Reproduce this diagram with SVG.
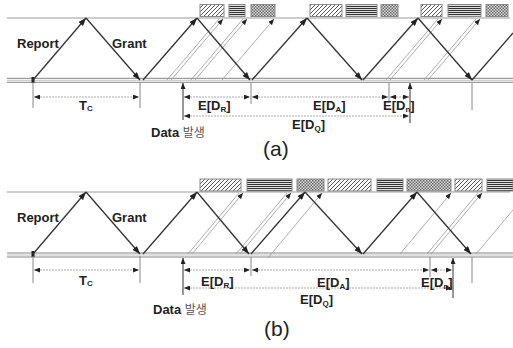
<svg xmlns="http://www.w3.org/2000/svg" width="513" height="348" viewBox="0 0 513 348">
<defs>
<pattern id="hatch" patternUnits="userSpaceOnUse" width="4" height="4">
<rect width="4" height="4" fill="#fff"/>
<path d="M-1,1 l2,-2 M0,4 l4,-4 M3,5 l2,-2" stroke="#555" stroke-width="1"/>
</pattern>
<pattern id="hlines" patternUnits="userSpaceOnUse" width="4" height="2">
<rect width="4" height="2" fill="#ddd"/>
<rect width="4" height="1" fill="#333"/>
</pattern>
<pattern id="checker" patternUnits="userSpaceOnUse" width="3" height="3">
<rect width="3" height="3" fill="#ddd"/>
<rect width="1.5" height="1.5" fill="#666"/>
<rect x="1.5" y="1.5" width="1.5" height="1.5" fill="#666"/>
</pattern>
<marker id="ah" markerUnits="userSpaceOnUse" markerWidth="8" markerHeight="6" refX="8" refY="3" orient="auto">
<path d="M0,0 L8,3 L0,6 z" fill="#222"/>
</marker>
<marker id="sa" markerUnits="userSpaceOnUse" markerWidth="6" markerHeight="5" refX="6" refY="2.5" orient="auto-start-reverse">
<path d="M0,0 L6,2.5 L0,5 z" fill="#222"/>
</marker>
</defs>
<style>
.base{stroke:#999;stroke-width:1;fill:none}
.bl{stroke:#777;stroke-width:0.9;fill:none}
.bl2{stroke:#bbb;stroke-width:0.9;fill:none}
.sig{stroke:#333;stroke-width:1.3;fill:none;marker-end:url(#ah)}
.g{stroke:#999;stroke-width:0.8;fill:none;marker-end:url(#sa)}
.gn{stroke:#999;stroke-width:0.8;fill:none}
.tk{stroke:#888;stroke-width:1;fill:none}
.dim{stroke:#aaa;stroke-width:1;stroke-dasharray:2 1;fill:none;marker-start:url(#sa);marker-end:url(#sa)}
.da{stroke:#333;stroke-width:1;fill:none;marker-end:url(#sa)}
.blk{stroke:#888;stroke-width:1}
.lab{font-family:"Liberation Sans",Arial,sans-serif;font-weight:bold;font-size:13px;fill:#222}
.ko{font-family:"Noto Sans CJK KR",sans-serif;font-weight:normal;font-size:12px;fill:#555}
.cap{font-family:"Liberation Sans",Arial,sans-serif;font-size:21px;fill:#222}
</style>

<!-- Panel (a) -->
<g id="panel-a-axes">
<line class="base" x1="7" y1="18" x2="510" y2="18"/>
<line class="bl" x1="7" y1="78.3" x2="513" y2="78.3"/>
<line class="bl2" x1="7" y1="80.3" x2="513" y2="80.3"/>
<line class="bl" x1="7" y1="82.3" x2="513" y2="82.3"/>
</g>
<g id="a-blocks">
<rect class="blk" x="200" y="4.5" width="24" height="12" fill="url(#hatch)"/>
<rect class="blk" x="229" y="4.5" width="16" height="12" fill="url(#hlines)"/>
<rect class="blk" x="251" y="4.5" width="24" height="12" fill="url(#checker)"/>
<rect class="blk" x="310" y="4.5" width="32" height="12" fill="url(#hatch)"/>
<rect class="blk" x="346" y="4.5" width="31" height="12" fill="url(#hlines)"/>
<rect class="blk" x="381" y="4.5" width="17" height="12" fill="url(#checker)"/>
<rect class="blk" x="421" y="4.5" width="21" height="12" fill="url(#hatch)"/>
<rect class="blk" x="448" y="4.5" width="33" height="12" fill="url(#hlines)"/>
<rect class="blk" x="486" y="4.5" width="22" height="12" fill="url(#checker)"/>
</g>
<g id="a-connectors">
<line class="gn" x1="167" y1="80" x2="219" y2="19"/>
<line class="g" x1="171" y1="80" x2="223" y2="19"/>
<line class="gn" x1="191" y1="80" x2="243" y2="19"/>
<line class="g" x1="195" y1="80" x2="247" y2="19"/>
<line class="g" x1="222" y1="80" x2="274" y2="19"/>
<line class="gn" x1="386" y1="80" x2="438" y2="19"/>
<line class="g" x1="390" y1="80" x2="442" y2="19"/>
<line class="gn" x1="424" y1="80" x2="476" y2="19"/>
<line class="g" x1="428" y1="80" x2="480" y2="19"/>
<rect x="31.5" y="77" width="3" height="6" fill="#222"/>
<line class="sig" x1="33" y1="80" x2="86" y2="18"/>
<line class="sig" x1="86" y1="18" x2="140" y2="80"/>
<line class="sig" x1="143" y1="80" x2="197" y2="18"/>
<line class="sig" x1="197" y1="18" x2="250" y2="80"/>
<line class="sig" x1="252" y1="80" x2="307" y2="18"/>
<line class="sig" x1="307" y1="18" x2="362" y2="80"/>
<line class="sig" x1="363" y1="80" x2="418" y2="18"/>
<line class="sig" x1="418" y1="18" x2="472" y2="80"/>
<line stroke="#333" stroke-width="1.3" x1="472" y1="80" x2="513" y2="33"/>
<line class="tk" x1="33" y1="82" x2="33" y2="108"/>
<line class="tk" x1="140" y1="82" x2="140" y2="108"/>
<line class="tk" x1="251" y1="83" x2="251" y2="104"/>
<line class="tk" x1="389" y1="83" x2="389" y2="101"/>
<line class="tk" x1="472" y1="83" x2="472" y2="110"/>
<line class="da" x1="183" y1="120" x2="183" y2="83"/>
<line class="da" x1="410" y1="123" x2="410" y2="83"/>
<line class="dim" x1="34" y1="97" x2="139" y2="97"/>
<line class="dim" x1="184" y1="97" x2="250" y2="97"/>
<line class="dim" x1="252" y1="97" x2="388" y2="97"/>
<line class="dim" x1="390" y1="97" x2="409" y2="97"/>
<line class="dim" x1="184" y1="116" x2="409" y2="116"/>
</g>
<g id="a-labels">
<text class="lab" x="17" y="48">Report</text>
<text class="lab" x="112" y="48">Grant</text>
<text class="lab" x="79" y="110">T<tspan font-size="8" dy="1">C</tspan></text>
<text class="lab" x="198" y="110">E[D<tspan font-size="8" dy="2">R</tspan><tspan dy="-2">]</tspan></text>
<text class="lab" x="313" y="110">E[D<tspan font-size="8" dy="2">A</tspan><tspan dy="-2">]</tspan></text>
<text class="lab" x="383" y="110">E[D<tspan font-size="8" dy="2">n</tspan><tspan dy="-2">]</tspan></text>
<text class="lab" x="292" y="129">E[D<tspan font-size="8" dy="2">Q</tspan><tspan dy="-2">]</tspan></text>
<text class="lab" x="151" y="137" font-size="12">Data <tspan class="ko">발생</tspan></text>
<text class="cap" x="263" y="156">(a)</text>
</g>

<!-- Panel (b) -->
<g id="panel-b-axes">
<line class="base" x1="7" y1="192" x2="510" y2="192"/>
<line class="bl" x1="7" y1="253" x2="513" y2="253"/>
<line class="bl2" x1="7" y1="255" x2="513" y2="255"/>
<line class="bl" x1="7" y1="257" x2="513" y2="257"/>
</g>
<g id="b-blocks">
<rect class="blk" x="200" y="179" width="41" height="12" fill="url(#hatch)"/>
<rect class="blk" x="247" y="179" width="45" height="12" fill="url(#hlines)"/>
<rect class="blk" x="297" y="179" width="27" height="12" fill="url(#checker)"/>
<rect class="blk" x="328" y="179" width="43" height="12" fill="url(#hatch)"/>
<rect class="blk" x="377" y="179" width="26" height="12" fill="url(#hlines)"/>
<rect class="blk" x="407" y="179" width="44" height="12" fill="url(#checker)"/>
<rect class="blk" x="455" y="179" width="27" height="12" fill="url(#hatch)"/>
<rect class="blk" x="487" y="179" width="26" height="12" fill="url(#hlines)"/>
</g>
<g id="b-connectors">
<line class="gn" x1="188" y1="254" x2="239" y2="193"/>
<line class="g" x1="192" y1="254" x2="243" y2="193"/>
<line class="gn" x1="236" y1="254" x2="287" y2="193"/>
<line class="g" x1="240" y1="254" x2="291" y2="193"/>
<line class="g" x1="268" y1="258" x2="322" y2="193"/>
<line class="g" x1="400" y1="254" x2="451" y2="193"/>
<line class="gn" x1="427" y1="254" x2="478" y2="193"/>
<line class="g" x1="431" y1="254" x2="482" y2="193"/>
<line class="gn" x1="476" y1="254" x2="513" y2="210"/>
<rect x="31.5" y="251" width="3" height="6" fill="#222"/>
<line class="sig" x1="33" y1="254" x2="86" y2="192"/>
<line class="sig" x1="86" y1="192" x2="140" y2="254"/>
<line class="sig" x1="143" y1="254" x2="197" y2="192"/>
<line class="sig" x1="197" y1="192" x2="249" y2="254"/>
<line class="sig" x1="251" y1="254" x2="305" y2="192"/>
<line class="sig" x1="305" y1="192" x2="362" y2="254"/>
<line class="sig" x1="363" y1="254" x2="417" y2="192"/>
<line class="sig" x1="417" y1="192" x2="471" y2="254"/>
<line class="tk" x1="33" y1="256" x2="33" y2="283"/>
<line class="tk" x1="140" y1="256" x2="140" y2="283"/>
<line class="tk" x1="251" y1="257" x2="251" y2="276"/>
<line class="tk" x1="430" y1="257" x2="430" y2="277"/>
<line class="tk" x1="472" y1="257" x2="472" y2="283"/>
<line class="da" x1="183" y1="295" x2="183" y2="258"/>
<line class="da" x1="453" y1="298" x2="453" y2="258"/>
<line class="dim" x1="34" y1="270" x2="139" y2="270"/>
<line class="dim" x1="184" y1="270" x2="250" y2="270"/>
<line class="dim" x1="252" y1="270" x2="429" y2="270"/>
<line class="dim" x1="431" y1="270" x2="452" y2="270"/>
<line class="dim" x1="184" y1="288" x2="452" y2="288"/>
</g>
<g id="b-labels">
<text class="lab" x="17" y="222">Report</text>
<text class="lab" x="112" y="222">Grant</text>
<text class="lab" x="79" y="285">T<tspan font-size="8" dy="1">C</tspan></text>
<text class="lab" x="201" y="286">E[D<tspan font-size="8" dy="2">R</tspan><tspan dy="-2">]</tspan></text>
<text class="lab" x="317" y="287">E[D<tspan font-size="8" dy="2">A</tspan><tspan dy="-2">]</tspan></text>
<text class="lab" x="421" y="287">E[D<tspan font-size="8" dy="2">n</tspan><tspan dy="-2">]</tspan></text>
<text class="lab" x="300" y="304">E[D<tspan font-size="8" dy="2">Q</tspan><tspan dy="-2">]</tspan></text>
<text class="lab" x="153" y="314" font-size="12">Data <tspan class="ko">발생</tspan></text>
<text class="cap" x="264" y="336">(b)</text>
</g>
</svg>
